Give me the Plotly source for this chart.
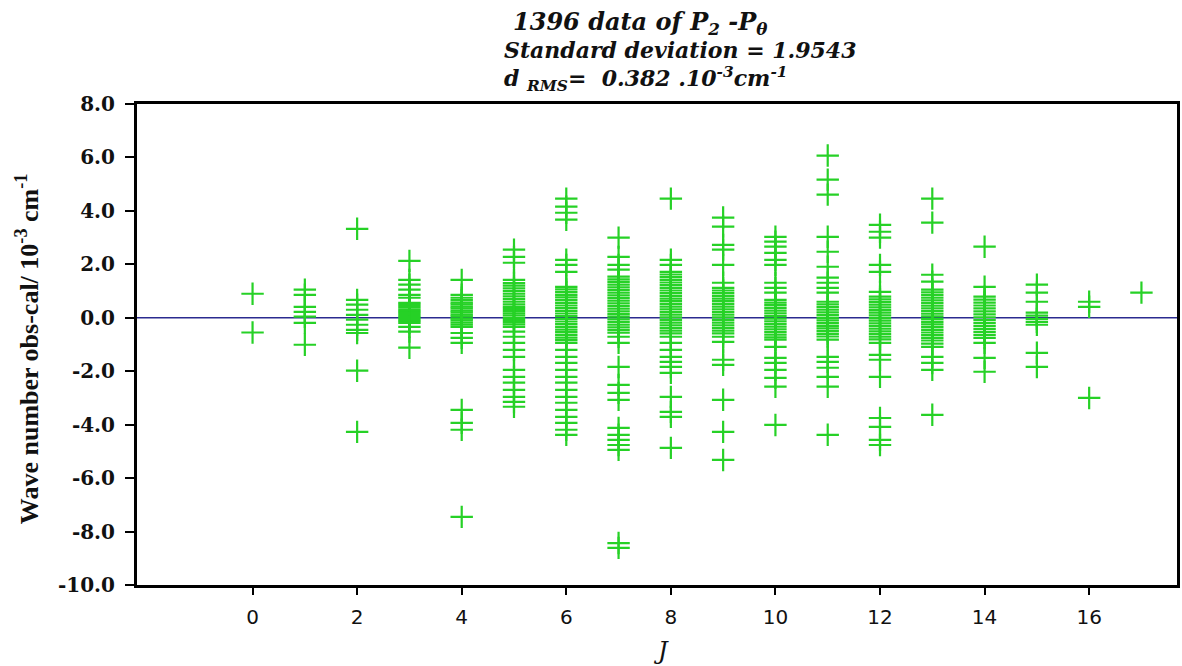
import plotly.graph_objects as go

# Residuals (obs - cal) in 10^-3 cm^-1, grouped by J
j0 = [0.9, -0.55]
j1 = [1.05, 0.86, 0.41, 0.22, 0.04, -0.19, -1.01]
j2 = [3.33, 0.67, 0.49, 0.3, 0.11, -0.07, -0.26, -0.45, -0.57, -1.98, -4.27]
j3 = [2.13, 1.42, 1.24, 1.05, 0.86, 0.75, 0.56, 0.48, 0.4, 0.32, 0.25, 0.18, 0.1, 0.03,
      -0.05, -0.12, -0.19, -0.34, -0.52, -1.12]
j4 = [1.42, 0.86, 0.75, 0.66, 0.57, 0.5, 0.42, 0.35, 0.27, 0.2, 0.12, 0.05, -0.03, -0.1,
      -0.18, -0.26, -0.34, -0.57, -0.75, -0.94, -3.45, -3.93, -4.19, -7.45]
j5 = [2.55, 2.28, 2.06, 1.42, 1.3, 1.2, 1.1, 1.0, 0.9, 0.8, 0.7, 0.6, 0.5, 0.41, 0.33, 0.25,
      0.17, 0.09, 0.0, -0.08, -0.16, -0.25, -0.34, -0.52, -0.71, -0.94, -1.2, -1.46, -1.95,
      -2.21, -2.43, -2.7, -2.96, -3.15, -3.33]
j6 = [4.46, 4.16, 3.93, 3.67, 2.17, 1.98, 1.72, 1.16, 1.06, 0.96, 0.86, 0.76, 0.66, 0.56,
      0.46, 0.36, 0.26, 0.16, 0.06, -0.04, -0.14, -0.24, -0.34, -0.44, -0.54, -0.64, -0.74,
      -0.84, -0.94, -1.2, -1.46, -1.69, -1.95, -2.21, -2.43, -2.7, -2.96, -3.18, -3.45,
      -3.71, -3.93, -4.19, -4.38]
j7 = [3.0, 2.28, 1.98, 1.8, 1.54, 1.44, 1.34, 1.24, 1.14, 1.04, 0.94, 0.84, 0.74, 0.64,
      0.54, 0.44, 0.34, 0.24, 0.14, 0.04, -0.06, -0.16, -0.26, -0.36, -0.46, -0.56, -0.71,
      -0.94, -1.84, -2.51, -2.81, -3.07, -4.12, -4.38, -4.57, -4.76, -4.94, -8.43, -8.61]
j8 = [4.46, 2.17, 1.98, 1.72, 1.62, 1.52, 1.42, 1.32, 1.22, 1.12, 1.02, 0.92, 0.82, 0.72,
      0.62, 0.52, 0.42, 0.32, 0.22, 0.12, 0.02, -0.08, -0.18, -0.28, -0.38, -0.48, -0.58,
      -0.71, -0.94, -1.2, -1.46, -1.65, -1.84, -2.06, -2.96, -3.52, -3.71, -4.87]
j9 = [3.75, 3.41, 2.73, 2.55, 1.98, 1.31, 1.12, 1.02, 0.92, 0.82, 0.72, 0.62, 0.52, 0.42,
      0.32, 0.22, 0.12, 0.02, -0.08, -0.18, -0.28, -0.38, -0.48, -0.58, -0.71, -0.9, -1.57,
      -1.76, -3.07, -4.27, -5.32]
j10 = [3.03, 2.85, 2.66, 2.43, 2.17, 1.98, 1.31, 1.12, 0.94, 0.67, 0.57, 0.47, 0.37, 0.27,
       0.17, 0.07, -0.03, -0.13, -0.23, -0.33, -0.43, -0.53, -0.63, -0.73, -0.82, -1.09,
       -1.5, -1.69, -1.95, -2.25, -2.58, -4.01]
j11 = [6.07, 5.17, 4.61, 3.03, 2.47, 1.91, 1.5, 1.31, 1.12, 0.94, 0.6, 0.5, 0.4, 0.3, 0.2,
       0.1, 0.0, -0.1, -0.2, -0.3, -0.4, -0.5, -0.6, -0.7, -0.82, -1.46, -1.65, -1.87,
       -2.21, -2.58, -4.38]
j12 = [3.48, 3.22, 3.0, 1.98, 1.72, 0.97, 0.79, 0.69, 0.59, 0.49, 0.39, 0.29, 0.19, 0.09,
       -0.01, -0.11, -0.21, -0.31, -0.41, -0.51, -0.61, -0.71, -0.81, -0.94, -1.39, -1.57,
       -2.21, -3.75, -4.08, -4.57, -4.76]
j13 = [4.46, 3.56, 1.61, 1.35, 1.05, 0.95, 0.85, 0.75, 0.65, 0.55, 0.45, 0.35, 0.25, 0.15,
       0.05, -0.05, -0.15, -0.25, -0.35, -0.45, -0.55, -0.65, -0.75, -0.85, -0.97, -1.09,
       -1.46, -1.69, -1.95, -3.63]
j14 = [2.66, 1.16, 0.79, 0.68, 0.57, 0.46, 0.35, 0.24, 0.13, 0.02, -0.09, -0.2, -0.31,
       -0.42, -0.53, -0.64, -0.75, -0.94, -1.5, -2.02]
j15 = [1.24, 0.94, 0.6, 0.19, 0.08, -0.04, -0.15, -0.26, -1.31, -1.84]
j16 = [0.6, 0.41, -3.0]
j17 = [0.94]

residuals_by_J = [j0, j1, j2, j3, j4, j5, j6, j7, j8, j9, j10, j11, j12, j13, j14, j15, j16, j17]
x_ticks = [0, 2, 4, 6, 8, 10, 12, 14, 16]
y_ticks = [8, 6, 4, 2, 0, -2, -4, -6, -8, -10]
y_tick_text = ["8.0", "6.0", "4.0", "2.0", "0.0", "-2.0", "-4.0", "-6.0", "-8.0", "-10.0"]

xs, ys = [], []
for J, vals in enumerate(residuals_by_J):
    xs.extend([J] * len(vals))
    ys.extend(vals)

fig = go.Figure()
fig.add_hline(y=0, line=dict(color="#2b2b8f", width=1.6), layer="below")
fig.add_trace(go.Scatter(
    x=xs, y=ys, mode="markers",
    marker=dict(symbol="cross-thin", size=16,
                line=dict(color="#26d126", width=2.2)),
    showlegend=False, hoverinfo="x+y",
))

serif = "Liberation Serif"
wide_serif = "DejaVu Serif"

fig.update_layout(
    width=1182, height=666,
    margin=dict(l=137, r=2, t=104, b=81),
    paper_bgcolor="white", plot_bgcolor="white",
    xaxis=dict(range=[-2.21, 17.68], tickvals=x_ticks,
               ticks="outside", ticklen=7, tickwidth=2, tickcolor="black",
               showline=True, linecolor="black", linewidth=3, mirror=True,
               showgrid=False, zeroline=False, ticklabelstandoff=5,
               tickfont=dict(family="DejaVu Sans", size=20, color="#111111")),
    yaxis=dict(range=[-10, 8], tickvals=y_ticks, ticktext=y_tick_text,
               ticks="outside", ticklen=9, tickwidth=2, tickcolor="black",
               showline=True, linecolor="black", linewidth=3, mirror=True,
               showgrid=False, zeroline=False, ticklabelstandoff=6,
               tickfont=dict(family=wide_serif, size=20, color="#111111", weight="bold")),
    annotations=[
        dict(text="<b><i>1396 data of P<sub>2</sub> -P<sub>θ</sub></i></b>",
             xref="paper", yref="paper", x=0.484, y=1.168, xanchor="center", yanchor="middle",
             showarrow=False, font=dict(family=wide_serif, size=24, color="#111111")),
        dict(text="<b><i>Standard deviation = 1.9543</i></b>",
             xref="paper", yref="paper", x=0.351, y=1.112, xanchor="left", yanchor="middle",
             showarrow=False, font=dict(family=wide_serif, size=22, color="#111111")),
        dict(text="<b><i>d <sub>RMS</sub>=  0.382 .10<sup>-3</sup>cm<sup>-1</sup></i></b>",
             xref="paper", yref="paper", x=0.351, y=1.052, xanchor="left", yanchor="middle",
             showarrow=False, font=dict(family=wide_serif, size=22, color="#111111")),
        dict(text="<b>Wave number obs-cal/ 10<sup>-3</sup> cm<sup>-1</sup></b>",
             xref="paper", yref="paper", x=-0.105, y=0.492, xanchor="center", yanchor="middle",
             textangle=-90, showarrow=False, font=dict(family=serif, size=26, color="#111111")),
        dict(text="<i>J</i>",
             xref="paper", yref="paper", x=0.504, y=-0.137, xanchor="center", yanchor="middle",
             showarrow=False, font=dict(family=wide_serif, size=24, color="#111111")),
    ],
)

fig.write_html("out.html")
